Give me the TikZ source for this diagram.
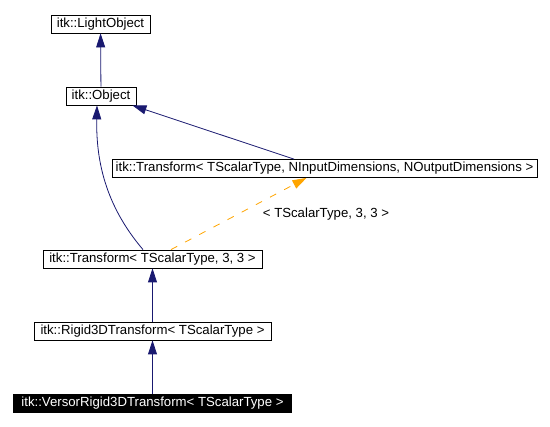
\documentclass[tikz,border=0pt]{standalone}
\usepackage{fontspec}
\setmainfont{Liberation Sans}
\usepackage{tikz}
\usetikzlibrary{positioning}
\usetikzlibrary{arrows.meta,arrows}
\definecolor{edgeblue}{HTML}{191970}
\definecolor{edgeorange}{HTML}{FFA500}

\begin{document}
\begin{tikzpicture}[x=1pt, y=-1pt, node distance={72pt}, font=\fontsize{13.2pt}{15pt}\selectfont,
    cls/.style={rectangle, draw, line width=0.8pt, inner xsep=2pt, inner ysep=0pt, minimum height=18pt},
    cur/.style={cls, fill=black, text=white},
    ar/.style={edgeblue, line width=0.8pt, -{Triangle[length=14pt, width=9pt]}},
    tmpl/.style={edgeorange, line width=0.8pt, dash pattern=on 7pt off 9pt, -{Triangle[length=14pt, width=9pt]}}]
      \useasboundingbox (0,0) rectangle (550,427);
      \node[cls, minimum width=99pt] (light) at (100.5,24) {itk::LightObject};
      \node[cls, minimum width=70pt] (obj) at (101,96) {itk::Object};
      \node[cls, minimum width=425pt] (tgen) at (324.5,168.5) {itk::Transform< TScalarType, NInputDimensions, NOutputDimensions >};
      \node[cls, minimum width=219pt] (t33) at (152.5,259) {itk::Transform< TScalarType, 3, 3 >};
      \node[cls, minimum width=237pt] (rigid) [below of=t33] {itk::Rigid3DTransform< TScalarType >};
      \node[cur, minimum width=278pt] (versor) [below of=rigid] {itk::VersorRigid3DTransform< TScalarType >};
      \node (lbl) at (326,214) {< TScalarType, 3, 3 >};

      \draw[ar] (obj) -- (light);
      \draw[ar] ([xshift=-30.5pt]tgen.north) -- ([xshift=-4pt]obj.south east);
      \draw[ar] ([xshift=-9.5pt]t33.north) .. controls (105,205) and (96,160) .. ([xshift=-4pt]obj.south);
      \draw[tmpl] ([xshift=18.5pt]t33.north) -- ([xshift=-18pt]tgen.south);
      \draw[ar] (rigid) -- (t33);
      \draw[ar] (versor) -- (rigid);
    \end{tikzpicture}
\end{document}
